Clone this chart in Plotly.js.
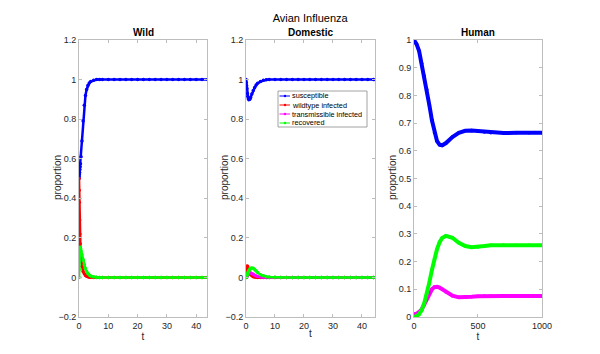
<!DOCTYPE html>
<html>
<head>
<meta charset="utf-8">
<script src="https://cdn.plot.ly/plotly-3.0.1.min.js"></script>
<style>
  html, body { margin: 0; padding: 0; background: #fff; }
  #plot { width: 600px; height: 354px; }
</style>
</head>
<body>
<div id="plot"></div>
<script>
// valores

// Wild
var tWild = [0, 0.05, 0.1, 0.2, 0.3, 0.4, 0.5, 0.7, 1.0, 1.4, 1.8, 2.2, 2.6, 3, 3.5, 4, 5, 6, 7, 8, 10, 12, 14, 16, 18, 20, 22, 24, 26, 28, 30, 32, 34, 36, 38, 40, 42, 44];
var sWild = [0.5, 0.51, 0.52, 0.53, 0.545, 0.56, 0.575, 0.61, 0.69, 0.79, 0.87, 0.92, 0.95, 0.97, 0.983, 0.99, 0.997, 1, 1, 1, 1, 1, 1, 1, 1, 1, 1, 1, 1, 1, 1, 1, 1, 1, 1, 1, 1, 1];
var iWild = [0.5, 0.44, 0.38, 0.29, 0.22, 0.17, 0.13, 0.09, 0.055, 0.03, 0.018, 0.01, 0.006, 0.003, 0.0015, 0.0005, 0, 0, 0, 0, 0, 0, 0, 0, 0, 0, 0, 0, 0, 0, 0, 0, 0, 0, 0, 0, 0, 0];
var rWild = [0, 0.04, 0.08, 0.13, 0.15, 0.152, 0.148, 0.135, 0.115, 0.09, 0.065, 0.045, 0.03, 0.02, 0.012, 0.007, 0.002, 0.0005, 0, 0, 0, 0, 0, 0, 0, 0, 0, 0, 0, 0, 0, 0, 0, 0, 0, 0, 0, 0];

// Domestic
var tDom = [0, 0.1, 0.2, 0.3, 0.45, 0.6, 0.8, 1.0, 1.3, 1.6, 2, 2.5, 3, 3.5, 4, 5, 6, 7, 8, 10, 12, 14, 16, 18, 20, 22, 24, 26, 28, 30, 32, 34, 36, 38, 40, 42, 44];
var sDom = [1, 0.985, 0.97, 0.955, 0.93, 0.915, 0.903, 0.898, 0.9, 0.91, 0.927, 0.945, 0.96, 0.972, 0.981, 0.99, 0.996, 0.999, 1, 1, 1, 1, 1, 1, 1, 1, 1, 1, 1, 1, 1, 1, 1, 1, 1, 1, 1];
var iDom = [0, 0.03, 0.047, 0.055, 0.058, 0.055, 0.045, 0.035, 0.024, 0.016, 0.009, 0.004, 0.002, 0.001, 0, 0, 0, 0, 0, 0, 0, 0, 0, 0, 0, 0, 0, 0, 0, 0, 0, 0, 0, 0, 0, 0, 0];
var mDom = [0, 0.002, 0.003, 0.005, 0.008, 0.012, 0.016, 0.019, 0.022, 0.022, 0.02, 0.016, 0.011, 0.007, 0.005, 0.002, 0.001, 0, 0, 0, 0, 0, 0, 0, 0, 0, 0, 0, 0, 0, 0, 0, 0, 0, 0, 0, 0];
var rDom = [0, 0.003, 0.007, 0.01, 0.016, 0.022, 0.029, 0.035, 0.042, 0.046, 0.048, 0.046, 0.04, 0.032, 0.025, 0.014, 0.008, 0.004, 0.002, 0.0005, 0, 0, 0, 0, 0, 0, 0, 0, 0, 0, 0, 0, 0, 0, 0, 0, 0];

// Human
var tHum = [0, 20, 40, 60, 80, 100, 120, 140, 160, 180, 200, 220, 250, 300, 350, 400, 450, 500, 550, 600, 700, 800, 900, 1000];
var sHum = [1, 0.985, 0.96, 0.915, 0.87, 0.82, 0.765, 0.71, 0.665, 0.635, 0.622, 0.62, 0.628, 0.65, 0.665, 0.672, 0.673, 0.671, 0.668, 0.665, 0.664, 0.665, 0.665, 0.665];
var mHum = [0.01, 0.012, 0.018, 0.028, 0.045, 0.065, 0.085, 0.1, 0.108, 0.109, 0.106, 0.1, 0.09, 0.077, 0.071, 0.071, 0.073, 0.075, 0.076, 0.076, 0.076, 0.076, 0.076, 0.076];
var rHum = [0, 0.003, 0.01, 0.025, 0.05, 0.085, 0.125, 0.17, 0.21, 0.245, 0.27, 0.285, 0.293, 0.286, 0.268, 0.256, 0.252, 0.253, 0.256, 0.259, 0.26, 0.259, 0.259, 0.259];

var nombres = ["susceptible", "wildtype infected", "transmissible infected", "recovered"];
var colores = ["#0000ff", "#ff0000", "#ff00ff", "#00ff00"];

function serie(x, y, k, eje, ancho) {
    return {
        x: x, y: y,
        xaxis: "x" + eje, yaxis: "y" + eje,
        type: "scatter", mode: "lines+markers",
        name: nombres[k],
        line: { color: colores[k], width: ancho },
        marker: { color: colores[k], size: 3.5 },
        showlegend: false
    };
}

var data = [
    serie(tWild, sWild, 0, "", 2.5),
    serie(tWild, iWild, 1, "", 2.5),
    serie(tWild, rWild, 3, "", 2.5),
    serie(tDom, sDom, 0, "2", 2.5),
    serie(tDom, iDom, 1, "2", 2.5),
    serie(tDom, mDom, 2, "2", 2.5),
    serie(tDom, rDom, 3, "2", 2.5),
    serie(tHum, sHum, 0, "3", 4),
    serie(tHum, mHum, 2, "3", 4),
    serie(tHum, rHum, 3, "3", 4)
];

var gris = "#bdbdbd";
var letra = "Liberation Sans, Arial, sans-serif";
var fuente = { family: letra, size: 9, color: "#262626" };

function ejeX(dom, rango, ancla) {
    return {
        domain: dom, range: rango, anchor: ancla,
        showline: true, linecolor: gris, linewidth: 1, mirror: "ticks",
        ticks: "inside", ticklen: 3, tickcolor: gris,
        showgrid: false, zeroline: false, tickfont: fuente,
        title: { text: "t", font: { family: letra, size: 10, color: "#262626" }, standoff: 0 }
    };
}
function ejeY(rango, ancla, dtick) {
    return {
        domain: [0.1045, 0.887], range: rango, anchor: ancla, dtick: dtick,
        showline: true, linecolor: gris, linewidth: 1, mirror: "ticks",
        ticks: "inside", ticklen: 3, tickcolor: gris,
        showgrid: false, zeroline: false, tickfont: fuente
    };
}

// leyenda dibujada a mano (caja en px del papel)
var shapes = [];
var annotations = [];
var px = function (v) { return v / 600; };
var py = function (v) { return 1 - v / 354; };
shapes.push({ type: "rect", xref: "paper", yref: "paper", x0: px(278), x1: px(367), y0: py(91), y1: py(127), line: { color: "#8c8c8c", width: 0.8 }, fillcolor: "#fff", layer: "above" });
for (var k = 0; k < nombres.length; k++) {
    var yy = 96 + 9 * k;
    shapes.push({ type: "line", xref: "paper", yref: "paper", x0: px(279.5), x1: px(290), y0: py(yy), y1: py(yy), line: { color: colores[k], width: 1 }, layer: "above" });
    shapes.push({ type: "circle", xref: "paper", yref: "paper", x0: px(283.8), x1: px(286.2), y0: py(yy - 1.2), y1: py(yy + 1.2), line: { width: 0 }, fillcolor: colores[k], layer: "above" });
    annotations.push({ text: nombres[k], x: px(290), y: py(yy), xref: "paper", yref: "paper", xanchor: "left", yanchor: "middle", showarrow: false, font: { family: letra, size: 7.3, color: "#000" } });
}

// titulos de cada panel
var paneles = [["Wild", 143], ["Domestic", 310.5], ["Human", 478]];
paneles.forEach(function (p) {
    annotations.push({ text: "<b>" + p[0] + "</b>", x: px(p[1]), y: py(33), xref: "paper", yref: "paper", xanchor: "center", yanchor: "middle", showarrow: false, font: { family: letra, size: 10, color: "#000" } });
});
// etiquetas del eje y
[57, 224, 392].forEach(function (xx) {
    annotations.push({ text: "proportion", x: px(xx), y: py(178), xref: "paper", yref: "paper", xanchor: "center", yanchor: "middle", textangle: -90, showarrow: false, font: { family: letra, size: 10, color: "#262626" } });
});

var layout = {
    width: 600, height: 354,
    margin: { l: 0, r: 0, t: 0, b: 0 },
    paper_bgcolor: "#fff", plot_bgcolor: "#fff",
    font: fuente,
    title: { text: "Avian Influenza", font: { family: letra, size: 11, color: "#000" }, x: 0.517, xanchor: "center", y: py(18), yanchor: "middle" },
    xaxis: ejeX([0.1317, 0.345], [0, 43.7], "y"),
    yaxis: ejeY([-0.2, 1.2], "x", 0.2),
    xaxis2: ejeX([0.41, 0.625], [0, 44.5], "y2"),
    yaxis2: ejeY([-0.2, 1.2], "x2", 0.2),
    xaxis3: ejeX([0.69, 0.9033], [0, 1000], "y3"),
    yaxis3: ejeY([0, 1], "x3", 0.1),
    showlegend: false,
    shapes: shapes,
    annotations: annotations
};

Plotly.newPlot("plot", data, layout, { displayModeBar: false, staticPlot: true });
</script>
</body>
</html>
